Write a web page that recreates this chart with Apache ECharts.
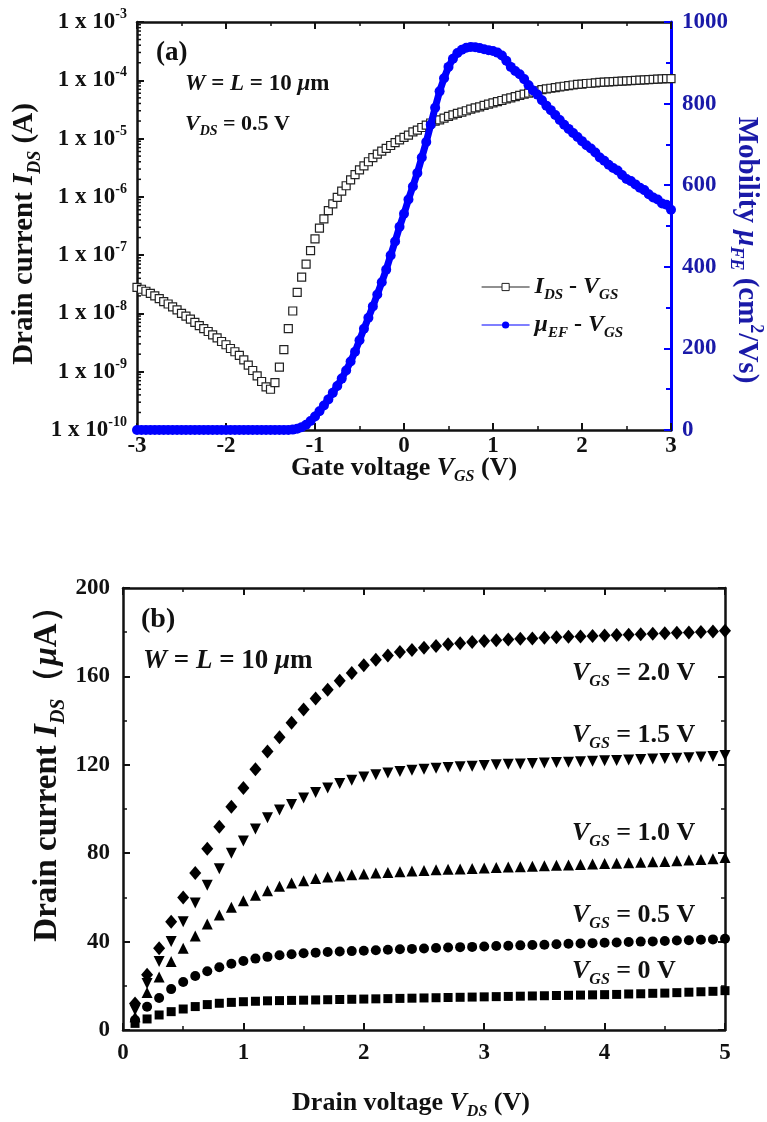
<!DOCTYPE html>
<html><head><meta charset="utf-8">
<script src="https://cdn.jsdelivr.net/npm/echarts@6/dist/echarts.min.js"></script>
<style>html,body{margin:0;padding:0;background:#fff}#c{width:767px;height:1122px}</style>
</head><body><div id="c"></div>
<script>
// ---------- Panel (a): transfer curve ----------
const VGS = [
 -3, -2.95, -2.9, -2.85, -2.8, -2.75, -2.7, -2.65, -2.6, -2.55,
 -2.5, -2.45, -2.4, -2.35, -2.3, -2.25, -2.2, -2.15, -2.1, -2.05,
 -2, -1.95, -1.9, -1.85, -1.8, -1.75, -1.7, -1.65, -1.6, -1.55,
 -1.5, -1.45, -1.4, -1.35, -1.3, -1.25, -1.2, -1.15, -1.1, -1.05,
 -1, -0.95, -0.9, -0.85, -0.8, -0.75, -0.7, -0.65, -0.6, -0.55,
 -0.5, -0.45, -0.4, -0.35, -0.3, -0.25, -0.2, -0.15, -0.1, -0.05,
 0, 0.05, 0.1, 0.15, 0.2, 0.25, 0.3, 0.35, 0.4, 0.45,
 0.5, 0.55, 0.6, 0.65, 0.7, 0.75, 0.8, 0.85, 0.9, 0.95,
 1, 1.05, 1.1, 1.15, 1.2, 1.25, 1.3, 1.35, 1.4, 1.45,
 1.5, 1.55, 1.6, 1.65, 1.7, 1.75, 1.8, 1.85, 1.9, 1.95,
 2, 2.05, 2.1, 2.15, 2.2, 2.25, 2.3, 2.35, 2.4, 2.45,
 2.5, 2.55, 2.6, 2.65, 2.7, 2.75, 2.8, 2.85, 2.9, 2.95,
 3
];
const IDS_A = [
 2.8e-8, 2.6e-8, 2.4e-8, 2.2e-8, 2.0e-8, 1.8e-8, 1.6e-8, 1.45e-8, 1.3e-8, 1.15e-8,
 1.0e-8, 9.0e-9, 8.0e-9, 7.0e-9, 6.2e-9, 5.5e-9, 4.9e-9, 4.3e-9, 3.8e-9, 3.3e-9,
 2.9e-9, 2.5e-9, 2.2e-9, 1.9e-9, 1.6e-9, 1.3e-9, 1.05e-9, 8.5e-10, 6.8e-10, 5.5e-10,
 5.0e-10, 6.5e-10, 1.2e-9, 2.4e-9, 5.5e-9, 1.1e-8, 2.3e-8, 4.2e-8, 7.0e-8, 1.2e-7,
 1.9e-7, 2.9e-7, 4.2e-7, 5.8e-7, 7.6e-7, 9.8e-7, 1.25e-6, 1.55e-6, 1.95e-6, 2.4e-6,
 2.9e-6, 3.4e-6, 4.0e-6, 4.7e-6, 5.4e-6, 6.1e-6, 6.8e-6, 7.6e-6, 8.5e-6, 9.5e-6,
 1.05e-5, 1.15e-5, 1.3e-5, 1.4e-5, 1.55e-5, 1.7e-5, 1.85e-5, 2.0e-5, 2.1e-5, 2.25e-5,
 2.4e-5, 2.55e-5, 2.7e-5, 2.85e-5, 3.0e-5, 3.2e-5, 3.35e-5, 3.5e-5, 3.7e-5, 3.9e-5,
 4.1e-5, 4.3e-5, 4.5e-5, 4.8e-5, 5.0e-5, 5.25e-5, 5.5e-5, 5.8e-5, 6.0e-5, 6.3e-5,
 6.6e-5, 6.9e-5, 7.1e-5, 7.3e-5, 7.5e-5, 7.7e-5, 7.9e-5, 8.1e-5, 8.3e-5, 8.5e-5,
 8.6e-5, 8.8e-5, 8.9e-5, 9.0e-5, 9.2e-5, 9.3e-5, 9.4e-5, 9.5e-5, 9.6e-5, 9.7e-5,
 9.8e-5, 9.9e-5, 1.0e-4, 1.01e-4, 1.02e-4, 1.03e-4, 1.04e-4, 1.05e-4, 1.06e-4, 1.065e-4,
 1.07e-4
];
const MU_FE = [
 0, 0, 0, 0, 0, 0, 0, 0, 0, 0,
 0, 0, 0, 0, 0, 0, 0, 0, 0, 0,
 0, 0, 0, 0, 0, 0, 0, 0, 0, 0,
 0, 0, 0, 0, 0, 1, 3, 7, 13, 22,
 33, 46, 60, 75, 91, 108, 126, 146, 168, 192,
 220, 248, 275, 303, 332, 362, 393, 428, 462, 498,
 530, 565, 597, 630, 668, 706, 748, 790, 830, 862,
 890, 910, 924, 932, 937, 939, 938, 936, 933, 931,
 929, 925, 918, 905, 890, 880, 872, 860, 845, 832,
 822, 808, 795, 784, 772, 760, 748, 738, 728, 718,
 708, 698, 690, 680, 668, 660, 650, 642, 636, 625,
 615, 610, 602, 594, 588, 578, 570, 565, 555, 552,
 540
];
const LOG_TICK_EXP = [-10, -9, -8, -7, -6, -5, -4, -3];

// ---------- Panel (b): output curves ----------
const VDS = [
 0.1, 0.2, 0.3, 0.4, 0.5, 0.6, 0.7, 0.8, 0.9, 1.0,
 1.1, 1.2, 1.3, 1.4, 1.5, 1.6, 1.7, 1.8, 1.9, 2.0,
 2.1, 2.2, 2.3, 2.4, 2.5, 2.6, 2.7, 2.8, 2.9, 3.0,
 3.1, 3.2, 3.3, 3.4, 3.5, 3.6, 3.7, 3.8, 3.9, 4.0,
 4.1, 4.2, 4.3, 4.4, 4.5, 4.6, 4.7, 4.8, 4.9, 5.0
];
const ID_VGS_20 = [
 12, 25, 37, 49, 60, 71, 82, 92, 101, 109.5,
 118, 126, 132.5, 139, 145, 150, 154, 158, 161.5, 165,
 167.5, 169.5, 171, 172, 173, 173.8, 174.5, 175, 175.6, 176,
 176.4, 176.7, 177, 177.2, 177.5, 177.7, 177.9, 178.1, 178.3, 178.5,
 178.7, 178.9, 179.1, 179.3, 179.5, 179.7, 179.9, 180.1, 180.3, 180.6
];
const ID_VGS_15 = [
 9, 21, 31, 40, 49, 57.5, 65.5, 73, 80, 85.5,
 91, 96, 99.5, 102, 105, 107.5, 109.5, 111.5, 113, 114.5,
 115.5, 116.3, 117, 117.5, 118, 118.4, 118.8, 119.1, 119.4, 119.7,
 120, 120.2, 120.4, 120.6, 120.8, 121, 121.2, 121.4, 121.6, 121.8,
 122, 122.2, 122.4, 122.6, 122.8, 123, 123.2, 123.5, 123.8, 124.2
];
const ID_VGS_10 = [
 6, 17, 24, 31, 37, 42.5, 48, 52, 55.5, 58.5,
 61, 63, 65, 66.5, 67.5, 68.5, 69.2, 69.7, 70.2, 70.6,
 71, 71.3, 71.6, 71.9, 72.2, 72.5, 72.7, 72.9, 73.1, 73.3,
 73.5, 73.7, 73.9, 74.1, 74.3, 74.5, 74.7, 74.9, 75.1, 75.3,
 75.5, 75.7, 75.9, 76.1, 76.3, 76.6, 76.9, 77.2, 77.5, 78
];
const ID_VGS_05 = [
 4.5, 10.5, 14.5, 18.5, 21.7, 24.4, 26.6, 28.4, 30, 31.2,
 32.3, 33.1, 33.8, 34.3, 34.7, 35, 35.3, 35.5, 35.7, 35.9,
 36.1, 36.3, 36.5, 36.7, 36.9, 37.1, 37.3, 37.5, 37.6, 37.8,
 38, 38.1, 38.3, 38.5, 38.6, 38.8, 39, 39.1, 39.3, 39.5,
 39.6, 39.8, 40, 40.1, 40.3, 40.5, 40.6, 40.8, 41, 41.3
];
const ID_VGS_00 = [
 3, 5, 6.8, 8.3, 9.5, 10.6, 11.5, 12.1, 12.5, 12.8,
 13, 13.2, 13.3, 13.4, 13.5, 13.6, 13.7, 13.8, 13.9, 14,
 14.1, 14.2, 14.3, 14.4, 14.5, 14.6, 14.7, 14.8, 14.9, 15,
 15.1, 15.2, 15.3, 15.4, 15.5, 15.6, 15.7, 15.8, 15.9, 16,
 16.1, 16.3, 16.4, 16.6, 16.7, 16.9, 17.1, 17.3, 17.5, 17.8
];
const VGS_LABELS = ['2.0', '1.5', '1.0', '0.5', '0'];

// ---------- helpers ----------
const F = 'Liberation Serif';
const BLACK = '#111';
const BLUE_LINE = '#0000ff';
const BLUE_TXT = '#1a1aa8';
function rich(base, color) {
  return {
    n: { fontFamily: F, fontWeight: 'bold', fontSize: base, color: color },
    i: { fontFamily: F, fontWeight: 'bold', fontStyle: 'italic', fontSize: base, color: color },
    s: { fontFamily: F, fontWeight: 'bold', fontStyle: 'italic', fontSize: Math.round(base * 0.62), color: color, padding: [Math.round(base * 0.7), 0, 0, 0] },
    p: { fontFamily: F, fontWeight: 'bold', fontSize: Math.round(base * 0.62), color: color, padding: [0, 0, Math.round(base * 0.7), 0] }
  };
}
function zip(xs, ys) { return xs.map((x, k) => [x, ys[k]]); }

const TICK_FS = 23;
const axisLineBlack = { show: true, onZero: false, lineStyle: { color: BLACK, width: 2.5 } };
const tickIn = { show: true, inside: true, length: 7, lineStyle: { color: BLACK, width: 2 } };
const minorIn = { show: true, splitNumber: 2, length: 4, lineStyle: { color: BLACK, width: 1.5 } };
const lblStyle = (m) => ({ fontFamily: F, fontWeight: 'bold', fontSize: TICK_FS, color: BLACK, margin: m });

// minor log ticks (axis decoration)
const logMinor = [];
for (let e = -10; e < -3; e++) for (let m = 2; m <= 9; m++) logMinor.push([-3, m * Math.pow(10, e)]);

const chart = echarts.init(document.getElementById('c'), null, { renderer: 'canvas' });

const option = {
  backgroundColor: '#fff',
  animation: false,
  grid: [
    { left: 137, top: 22, width: 534, height: 408, containLabel: false, outerBoundsMode: 'none' },
    { left: 123, top: 588, width: 602, height: 442, containLabel: false, outerBoundsMode: 'none' }
  ],
  xAxis: [
    { gridIndex: 0, type: 'value', position: 'bottom', min: -3, max: 3, interval: 1,
      axisLine: axisLineBlack, axisTick: tickIn, minorTick: minorIn, splitLine: { show: false },
      axisLabel: lblStyle(5),
      name: '{n|Gate voltage }{i|V}{s|GS}{n| (V)}', nameLocation: 'middle', nameGap: 21, nameMoveOverlap: false,
      nameTextStyle: { rich: rich(26, BLACK) } },
    { gridIndex: 0, type: 'value', position: 'top', min: -3, max: 3, interval: 1,
      axisLine: axisLineBlack, axisTick: tickIn, minorTick: minorIn, splitLine: { show: false },
      axisLabel: { show: false } },
    { gridIndex: 1, type: 'value', position: 'bottom', min: 0, max: 5, interval: 1,
      axisLine: axisLineBlack, axisTick: tickIn, minorTick: minorIn, splitLine: { show: false },
      axisLabel: lblStyle(12),
      name: '{n|Drain voltage }{i|V}{s|DS}{n| (V)}', nameLocation: 'middle', nameGap: 56, nameMoveOverlap: false,
      nameTextStyle: { rich: rich(26, BLACK), padding: [0, 26, 0, 0] } },
    { gridIndex: 1, type: 'value', position: 'top', min: 0, max: 5, interval: 1,
      axisLine: axisLineBlack, axisTick: tickIn, minorTick: minorIn, splitLine: { show: false },
      axisLabel: { show: false } }
  ],
  yAxis: [
    { gridIndex: 0, type: 'log', logBase: 10, min: 1e-10, max: 1e-3, splitNumber: 7, position: 'left',
      axisLine: axisLineBlack, axisTick: tickIn, splitLine: { show: false },
      axisLabel: {
        margin: 10,
        formatter: function (v) {
          const e = Math.round(Math.log10(v));
          return LOG_TICK_EXP.indexOf(e) >= 0 ? '{a|1 x 10}{b|' + e + '}' : '';
        },
        rich: {
          a: { fontFamily: F, fontWeight: 'bold', fontSize: TICK_FS, color: BLACK },
          b: { fontFamily: F, fontWeight: 'bold', fontSize: 14, color: BLACK, padding: [0, 0, 15, 0] }
        }
      },
      name: '{n|Drain current }{i|I}{s|DS}{n| (A)}', nameLocation: 'middle', nameGap: 93, nameRotate: 90, nameMoveOverlap: false,
      nameTextStyle: { rich: rich(29, BLACK), padding: [0, 16, 0, 0] } },
    { gridIndex: 0, type: 'value', min: 0, max: 1000, interval: 200, position: 'right',
      axisLine: { show: true, onZero: false, lineStyle: { color: BLUE_LINE, width: 3 } },
      axisTick: { show: true, inside: true, length: 7, lineStyle: { color: BLUE_LINE, width: 2 } },
      minorTick: { show: true, splitNumber: 2, length: 5, lineStyle: { color: BLUE_LINE, width: 2 } },
      splitLine: { show: false },
      axisLabel: { fontFamily: F, fontWeight: 'bold', fontSize: TICK_FS, color: BLUE_TXT, margin: 11,
        formatter: function (v) { return String(v); } },
      name: '{n|Mobility }{i|μ}{s|FE}{n| (cm}{p|2}{n|/Vs)}', nameLocation: 'middle', nameGap: 56, nameRotate: -90, nameMoveOverlap: false,
      nameTextStyle: { rich: rich(29, BLUE_TXT), padding: [0, 0, 0, 48] } },
    { gridIndex: 1, type: 'value', min: 0, max: 200, interval: 40, position: 'left',
      axisLine: axisLineBlack, axisTick: tickIn, minorTick: minorIn, splitLine: { show: false },
      axisLabel: lblStyle(13),
      name: '{n|Drain current }{i|I}{s|DS}{n|（}{i|μ}{n|A）}', nameLocation: 'middle', nameGap: 54, nameRotate: 90, nameMoveOverlap: false,
      nameTextStyle: { rich: rich(33, BLACK), padding: [0, 0, 0, 86] } },
    { gridIndex: 1, type: 'value', min: 0, max: 200, interval: 40, position: 'right',
      axisLine: axisLineBlack, axisTick: tickIn, minorTick: minorIn, splitLine: { show: false },
      axisLabel: { show: false } }
  ],
  legend: {
    left: 476, top: 270, orient: 'vertical', itemWidth: 48, itemHeight: 9, itemGap: 10,
    data: [
      { name: 'ids', lineStyle: { opacity: 1, width: 1.2, color: '#222' }, itemStyle: { color: '#fff', borderColor: '#222', borderWidth: 1 } },
      { name: 'mu', lineStyle: { width: 1.2, color: BLUE_LINE } }
    ],
    formatter: function (n) {
      return n === 'ids' ? '{i|I}{s|DS}{n| - }{i|V}{s|GS}' : '{i|μ}{s|EF}{n| - }{i|V}{s|GS}';
    },
    textStyle: { rich: rich(24, BLACK) }
  },
  series: [
    { name: 'ids', type: 'line', xAxisIndex: 0, yAxisIndex: 0, data: zip(VGS, IDS_A),
      symbol: 'rect', symbolSize: 8, showSymbol: true, showAllSymbol: true,
      lineStyle: { opacity: 0 },
      itemStyle: { color: '#fff', borderColor: '#222', borderWidth: 1.2 }, z: 3 },
    { name: 'mu', type: 'line', xAxisIndex: 0, yAxisIndex: 1, data: zip(VGS, MU_FE),
      symbol: 'circle', symbolSize: 10, showSymbol: true, showAllSymbol: true,
      lineStyle: { color: BLUE_LINE, width: 7 }, itemStyle: { color: BLUE_LINE }, z: 4 },
    { type: 'custom', xAxisIndex: 0, yAxisIndex: 0, data: logMinor, silent: true, clip: false, z: 6,
      renderItem: function (params, api) {
        const p = api.coord([api.value(0), api.value(1)]);
        return { type: 'line', shape: { x1: p[0], y1: p[1], x2: p[0] + 4, y2: p[1] }, style: { stroke: BLACK, lineWidth: 1.5 } };
      } },
    { type: 'scatter', xAxisIndex: 2, yAxisIndex: 2, data: zip(VDS, ID_VGS_20), symbol: 'diamond', symbolSize: [12, 14], itemStyle: { color: '#000', opacity: 1 } },
    { type: 'scatter', xAxisIndex: 2, yAxisIndex: 2, data: zip(VDS, ID_VGS_15), symbol: 'triangle', symbolRotate: 180, symbolSize: 11, itemStyle: { color: '#000', opacity: 1 } },
    { type: 'scatter', xAxisIndex: 2, yAxisIndex: 2, data: zip(VDS, ID_VGS_10), symbol: 'triangle', symbolSize: 11, itemStyle: { color: '#000', opacity: 1 } },
    { type: 'scatter', xAxisIndex: 2, yAxisIndex: 2, data: zip(VDS, ID_VGS_05), symbol: 'circle', symbolSize: 10, itemStyle: { color: '#000', opacity: 1 } },
    { type: 'scatter', xAxisIndex: 2, yAxisIndex: 2, data: zip(VDS, ID_VGS_00), symbol: 'rect', symbolSize: 9, itemStyle: { color: '#000', opacity: 1 } }
  ],
  graphic: []
};

function label(x, y, text, size) {
  return { type: 'text', x: x, y: y, z: 100,
    style: { text: text, rich: rich(size, BLACK), verticalAlign: 'middle', align: 'left', fill: BLACK } };
}
option.graphic = [
  label(156, 53, '{n|(a)}', 27),
  label(185, 84, '{i|W}{n| = }{i|L}{n| = 10 }{i|μ}{n|m}', 23),
  label(185, 124, '{i|V}{s|DS}{n| = 0.5 V}', 22),
  label(141, 620, '{n|(b)}', 28),
  label(143, 661, '{i|W}{n| = }{i|L}{n| = 10 }{i|μ}{n|m}', 27),
  label(572, 673, '{i|V}{s|GS}{n| = ' + VGS_LABELS[0] + ' V}', 26),
  label(572, 735, '{i|V}{s|GS}{n| = ' + VGS_LABELS[1] + ' V}', 26),
  label(572, 833, '{i|V}{s|GS}{n| = ' + VGS_LABELS[2] + ' V}', 26),
  label(572, 915, '{i|V}{s|GS}{n| = ' + VGS_LABELS[3] + ' V}', 26),
  label(572, 971, '{i|V}{s|GS}{n| = ' + VGS_LABELS[4] + ' V}', 26)
];

chart.setOption(option);
</script>
</body></html>
